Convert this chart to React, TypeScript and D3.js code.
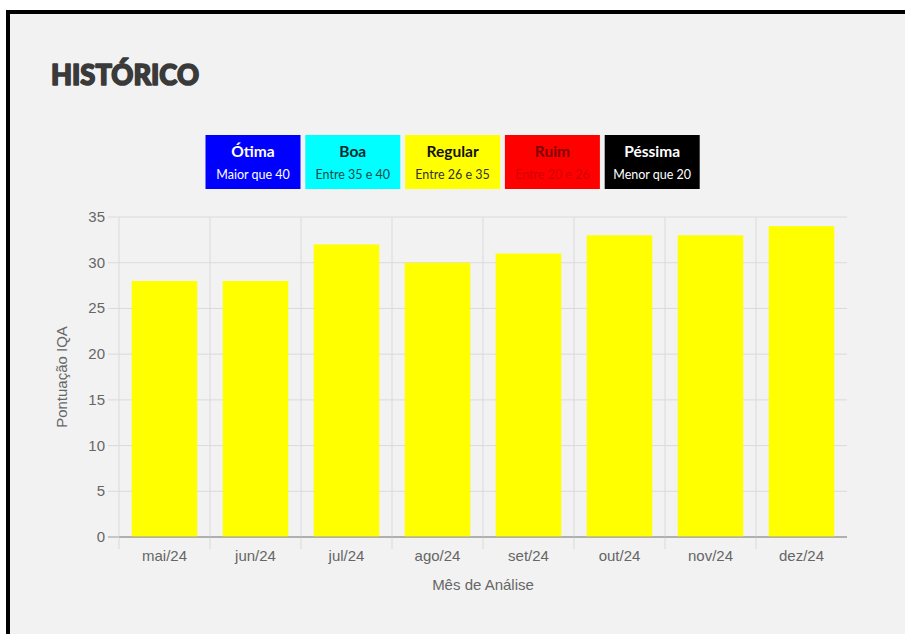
import React from "react";
import * as d3 from "d3";

const months = ["mai/24", "jun/24", "jul/24", "ago/24", "set/24", "out/24", "nov/24", "dez/24"];
const scores = [28, 28, 32, 30, 31, 33, 33, 34];
const yTicks = [0, 5, 10, 15, 20, 25, 30, 35];

const legendNames = ["Ótima", "Boa", "Regular", "Ruim", "Péssima"];
const legendRanges = ["Maior que 40", "Entre 35 e 40", "Entre 26 e 35", "Entre 20 e 26", "Menor que 20"];
const legendFills = ["#0000ff", "#00ffff", "#ffff00", "#ff0000", "#000000"];
const legendTitleColors = ["#ffffff", "#0b2b2b", "#111111", "#800000", "#ffffff"];
const legendSubColors = ["#ffffff", "#1a4a4a", "#333333", "#d40000", "#ffffff"];

const W = 905;
const H = 634;
const plot = { left: 119, right: 847, top: 217, bottom: 537 };

export default function App() {
  const x = d3.scaleBand<string>().domain(months).range([plot.left, plot.right]).padding(0);
  const y = d3.scaleLinear().domain([0, 35]).range([plot.bottom, plot.top]);
  const step = x.step();
  const barW = step * 0.72;
  const cx = (plot.left + plot.right) / 2;
  const axisFont = "'Liberation Sans', Arial, sans-serif";
  const legendFont = "Lato, 'Open Sans', sans-serif";

  return (
    <svg width={W} height={H} style={{ position: "absolute", left: 0, top: 0 }}>
      <rect x={0} y={0} width={W} height={H} fill="#ffffff" />
      <rect x={6} y={10} width={W} height={H} fill="#f2f2f2" />
      <rect x={6} y={10} width={4} height={H} fill="#000" />
      <rect x={6} y={10} width={W} height={4} fill="#000" />

      <text x={51} y={85} fontFamily="Lato, 'Open Sans', sans-serif" fontWeight={900} fontSize={28} fill="#3a3a3a" stroke="#3a3a3a" strokeWidth={1.6} strokeLinejoin="round" textLength={148} lengthAdjust="spacingAndGlyphs">
        HISTÓRICO
      </text>

      {legendNames.map((n, i) => {
        const bx = 205.5 + i * 99.8;
        return (
          <g key={n}>
            <rect x={bx} y={135} width={95} height={54} fill={legendFills[i]} />
            <text x={bx + 47.5} y={156.5} textAnchor="middle" fontFamily={legendFont} fontWeight={700} fontSize={15.5} fill={legendTitleColors[i]}>
              {n}
            </text>
            <text x={bx + 47.5} y={179} textAnchor="middle" fontFamily={legendFont} fontSize={12.5} fill={legendSubColors[i]}>
              {legendRanges[i]}
            </text>
          </g>
        );
      })}

      {yTicks.map((t) => (
        <g key={t}>
          <line x1={plot.left - 11} x2={plot.right} y1={y(t)} y2={y(t)} stroke={t === 0 ? "#9a9a9a" : "#dadada"} strokeWidth={1} />
          <text x={105} y={y(t) + 5} textAnchor="end" fontFamily={axisFont} fontSize={15} fill="#666">
            {t}
          </text>
        </g>
      ))}

      {months.map((m) => (
        <line key={m} x1={x(m)!} x2={x(m)!} y1={plot.top} y2={plot.bottom + 12} stroke="#dadada" strokeWidth={1} />
      ))}

      {months.map((m, i) => (
        <rect key={m} x={x(m)! + (step - barW) / 2} y={y(scores[i])} width={barW} height={y(0) - y(scores[i])} fill="#ffff00" />
      ))}

      <line x1={plot.left} x2={plot.right} y1={y(0)} y2={y(0)} stroke="#9a9a9a" strokeWidth={1} />

      {months.map((m) => (
        <text key={m} x={x(m)! + step / 2} y={561} textAnchor="middle" fontFamily={axisFont} fontSize={15} fill="#666">
          {m}
        </text>
      ))}

      <text x={cx} y={590} textAnchor="middle" fontFamily={axisFont} fontSize={15} fill="#666">
        Mês de Análise
      </text>
      <text transform={`translate(67, ${(plot.top + plot.bottom) / 2}) rotate(-90)`} textAnchor="middle" fontFamily={axisFont} fontSize={15} fill="#666">
        Pontuação IQA
      </text>
    </svg>
  );
}
